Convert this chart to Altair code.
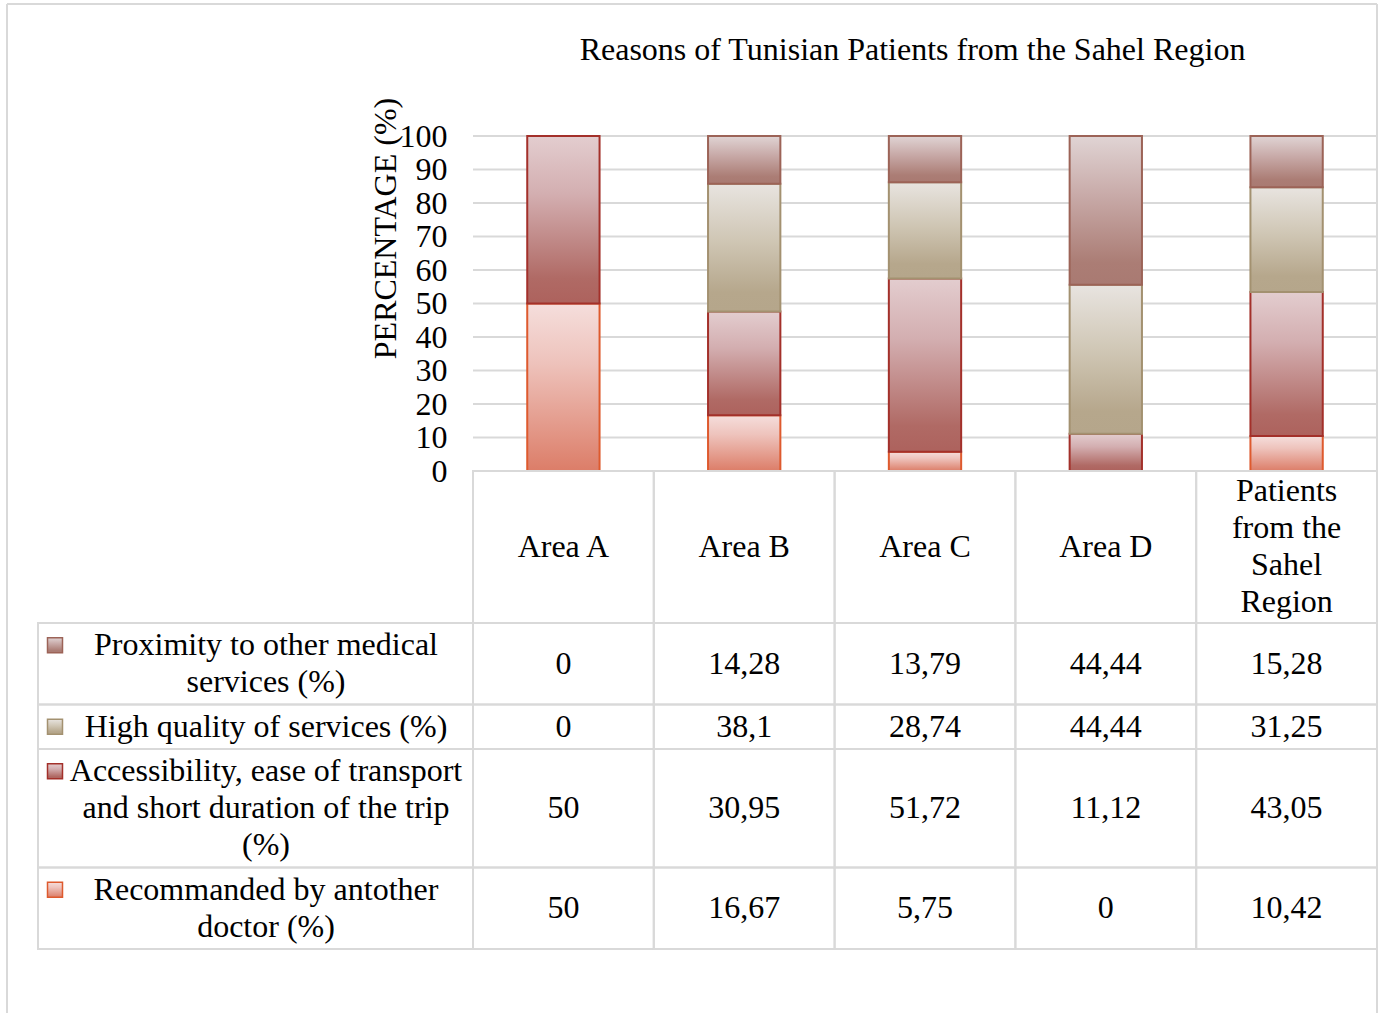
import altair as alt
import pandas as pd

# ---------------- data ----------------
categories = ["Area A", "Area B", "Area C", "Area D", "Patients\nfrom the\nSahel\nRegion"]
series_names = [
    "Recommanded by antother\ndoctor (%)",
    "Accessibility, ease of transport\nand short duration of the trip\n(%)",
    "High quality of services (%)",
    "Proximity to other medical\nservices (%)",
]
recommanded = [50, 16.67, 5.75, 0, 10.42]
accessibility = [50, 30.95, 51.72, 11.12, 43.05]
high_quality = [0, 38.1, 28.74, 44.44, 31.25]
proximity = [0, 14.28, 13.79, 44.44, 15.28]
series_values = [recommanded, accessibility, high_quality, proximity]
y_ticks = [0, 10, 20, 30, 40, 50, 60, 70, 80, 90, 100]
chart_title = "Reasons of Tunisian Patients from the Sahel Region"
y_title = "PERCENTAGE (%)"

# ---------------- styles / layout ----------------
FONT = "Liberation Serif"
FS = 32
LINE_H = 37
GRID = "#d9d9d9"
COL_PX = 180.8
LABEL_PX = 435
N = len(categories)
LBL = LABEL_PX / COL_PX
PLOT_W = LABEL_PX + N * COL_PX
BAR_H = 335
TABLE_H = 478
BAR_FRAC = 0.4
HEADER_PAD = 0.1
ROW_PAD = 0.2
KEY_PX = 17
LABEL_TEXT_PX = 228


def grad(stops):
    return alt.LinearGradient(
        gradient="linear", x1=0, y1=0, x2=0, y2=1,
        stops=[alt.GradientStop(offset=o, color=c) for o, c in stops],
    )


series_style = [
    ([(0, "#f5dedc"), (0.35, "#eec3bc"), (1, "#dc7d68")], "#de5a2e"),
    ([(0, "#e3cdcf"), (0.35, "#d3aeb0"), (0.85, "#b06a65"), (1, "#ad625d")], "#a3302a"),
    ([(0, "#e8e4e0"), (0.45, "#cfc6b4"), (0.85, "#b6a78c"), (1, "#b5a68b")], "#a39170"),
    ([(0, "#e0d4d4"), (0.4, "#c8aaa8"), (0.85, "#ab7d75"), (1, "#a97a72")], "#9c6357"),
]


def fmt(v):
    return f"{v:g}".replace(".", ",")


# ---------------- bars chart ----------------
rows = []
for si, (name, vals) in enumerate(zip(series_names, series_values)):
    for ci, v in enumerate(vals):
        rows.append({"series": name, "order": si, "idx": ci, "value": v})
bars_df = pd.DataFrame(rows)

xs = alt.Scale(domain=[-LBL, N], nice=False, zero=False)
ys = alt.Scale(domain=[0, 100], nice=False)
yaxis = alt.Axis(
    values=y_ticks, title=y_title, grid=False, domain=False, ticks=False, tickSize=0,
    labelPadding=26, offset=-LABEL_PX, labelOverlap=False,
    labelFont=FONT, labelFontSize=FS, labelColor="black",
    titleFont=FONT, titleFontSize=FS, titleFontWeight="normal", titleColor="black",
    titleX=-88, titleY=92, titleAngle=270, titleAlign="center", titleBaseline="middle",
)

grid_df = pd.DataFrame({"tick": y_ticks, "x0": 0, "x1": N})
grid = alt.Chart(grid_df).mark_rule(color=GRID, strokeWidth=2).encode(
    x=alt.X("x0:Q", scale=xs, axis=None), x2="x1:Q",
    y=alt.Y("tick:Q", scale=ys, axis=yaxis),
)

base = alt.Chart(bars_df).transform_stack(
    stack="value", groupby=["idx"], as_=["y0", "y1"],
    sort=[alt.SortField("order", order="ascending")],
).transform_calculate(
    bx0=f"datum.idx + {(1 - BAR_FRAC) / 2}",
    bx1=f"datum.idx + {(1 + BAR_FRAC) / 2}",
)

bar_layers = []
for si, (stops, stroke) in enumerate(series_style):
    bar_layers.append(
        base.transform_filter(f"datum.order == {si} && datum.value > 0")
        .mark_rect(fill=grad(stops), stroke=stroke, strokeWidth=2)
        .encode(
            x=alt.X("bx0:Q", scale=xs, axis=None), x2="bx1:Q",
            y=alt.Y("y0:Q", scale=ys, axis=yaxis), y2="y1:Q",
        )
    )

top = alt.layer(grid, *bar_layers).properties(
    width=PLOT_W, height=BAR_H,
    title=alt.TitleParams(
        chart_title, font=FONT, fontSize=FS, fontWeight="normal", color="black",
        anchor="middle", frame="group", dx=205, offset=-2, baseline="bottom",
    ),
)

# ---------------- data table ----------------
header_lines = max(c.count("\n") + 1 for c in categories)
hh = header_lines + HEADER_PAD
table_order = list(range(len(series_names)))[::-1]
row_units = [series_names[si].count("\n") + 1 + ROW_PAD for si in table_order]
total_units = hh + sum(row_units)
unit_px = TABLE_H / total_units
line_units = LINE_H / unit_px


def first_line_y(center, text):
    n = text.count("\n") + 1
    return center - (n - 1) / 2 * line_units


cells, texts, keys = [], [], []
for ci, c in enumerate(categories):
    cells.append({"x0": ci, "x1": ci + 1, "y0": 0, "y1": hh})
    texts.append({"x": ci + 0.5, "y": first_line_y(hh / 2, c), "text": c})
y = hh
for si, h in zip(table_order, row_units):
    name = series_names[si]
    cells.append({"x0": -LBL, "x1": 0, "y0": y, "y1": y + h})
    texts.append({"x": -LBL + LABEL_TEXT_PX / COL_PX, "y": first_line_y(y + h / 2, name), "text": name})
    keys.append({"order": si, "x": -LBL + KEY_PX / COL_PX, "y": first_line_y(y + h / 2, name)})
    for ci, v in enumerate(series_values[si]):
        s = fmt(v)
        cells.append({"x0": ci, "x1": ci + 1, "y0": y, "y1": y + h})
        texts.append({"x": ci + 0.5, "y": first_line_y(y + h / 2, s), "text": s})
    y += h

cells_df = pd.DataFrame(cells)
texts_df = pd.DataFrame(texts)
keys_df = pd.DataFrame(keys)

xs_t = alt.Scale(domain=[-LBL, N], nice=False, zero=False)
ys_t = alt.Scale(domain=[0, total_units], nice=False, zero=False, reverse=True)

cell_layer = alt.Chart(cells_df).mark_rect(fillOpacity=0, stroke=GRID, strokeWidth=2).encode(
    x=alt.X("x0:Q", scale=xs_t, axis=None), x2="x1:Q",
    y=alt.Y("y0:Q", scale=ys_t, axis=None), y2="y1:Q",
)
text_layer = alt.Chart(texts_df).mark_text(
    font=FONT, fontSize=FS, color="black", align="center", baseline="middle",
    lineBreak="\n", lineHeight=LINE_H,
).encode(
    x=alt.X("x:Q", scale=xs_t, axis=None),
    y=alt.Y("y:Q", scale=ys_t, axis=None),
    text="text:N",
)
key_layers = []
for si, (stops, stroke) in enumerate(series_style):
    key_layers.append(
        alt.Chart(keys_df).transform_filter(f"datum.order == {si}")
        .mark_square(size=225, fill=grad(stops), stroke=stroke, strokeWidth=1.5, opacity=1)
        .encode(
            x=alt.X("x:Q", scale=xs_t, axis=None),
            y=alt.Y("y:Q", scale=ys_t, axis=None),
        )
    )

# decorative outer frame of the figure (chrome, not data)
dummy = pd.DataFrame({"d": [0]})
frame_top = alt.Chart(dummy).mark_rule(color=GRID, strokeWidth=2).encode(
    x=alt.value(-31), x2=alt.value(PLOT_W), y=alt.value(-467))
frame_left = alt.Chart(dummy).mark_rule(color=GRID, strokeWidth=2).encode(
    x=alt.value(-31), y=alt.value(-467), y2=alt.value(542))
frame_right = alt.Chart(dummy).mark_rule(color=GRID, strokeWidth=2).encode(
    x=alt.value(PLOT_W), y=alt.value(-467), y2=alt.value(542))

table = alt.layer(frame_top, frame_left, frame_right, cell_layer, text_layer, *key_layers).properties(
    width=PLOT_W, height=TABLE_H)

chart = alt.vconcat(top, table, spacing=0, bounds="flush").properties(
    padding={"left": 6, "top": 3, "right": 0, "bottom": 0},
    background="white",
).configure_view(strokeWidth=0)

chart.save("out.html", embed_options={"renderer": "svg", "actions": False})
